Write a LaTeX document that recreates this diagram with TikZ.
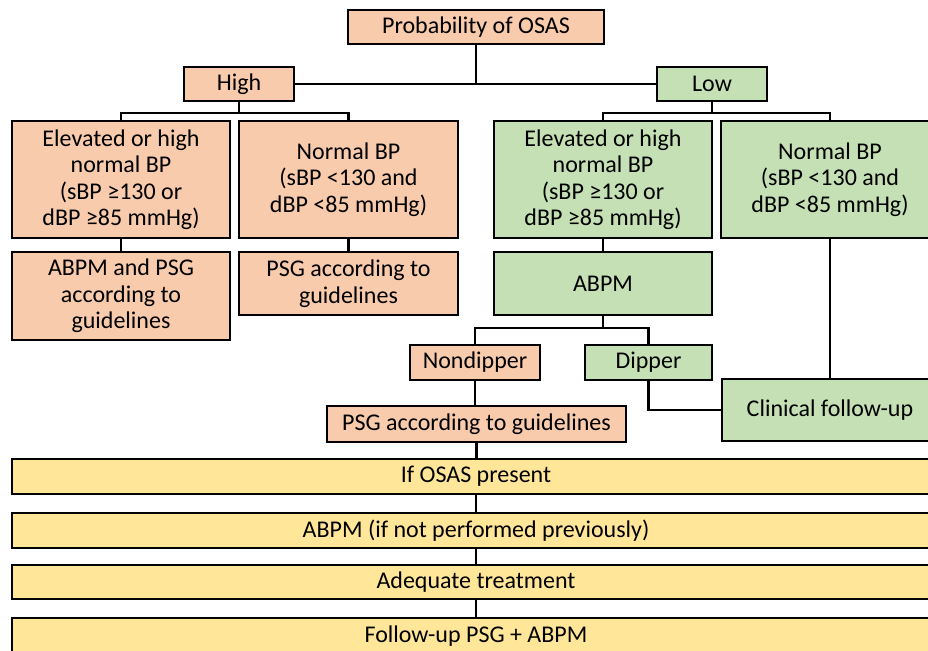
\documentclass[tikz,border=0pt]{standalone}
\usepackage{fontspec}
\setmainfont{Carlito}
\usepackage{tikz}
\usetikzlibrary{calc}
\usepackage{xcolor}
\definecolor{highcolor}{RGB}{248,203,173}
\definecolor{lowcolor}{RGB}{197,224,180}
\definecolor{barcolor}{RGB}{255,230,153}

\begin{document}
\begin{tikzpicture}[x=1pt, y=-1pt, line width=2.2pt,
    every node/.style={font=\fontsize{24}{26.5}\selectfont, align=center, inner sep=0pt},
    redbox/.style={draw, fill=highcolor, rectangle},
    greenbox/.style={draw, fill=lowcolor, rectangle},
    yellowbar/.style={draw, fill=barcolor, rectangle, minimum width=928, minimum height=35}]
      % page: 928 x 650, y grows downward
      \useasboundingbox (0,0) rectangle (928,650);
      \clip (0,0) rectangle (928,650);

      % Top level
      \node[redbox, minimum width=256, minimum height=34] (prob) at (476,27) {Probability of OSAS};
      \node[redbox, minimum width=110, minimum height=34] (high) at (239,84) {High};
      \node[greenbox, minimum width=110, minimum height=34] (low) at (712,84) {Low};

      % Blood pressure boxes
      \node[redbox, minimum width=218, minimum height=117] (elevhi) at (121,179.5)
        {Elevated or high\\normal BP\\(sBP ≥130 or\\dBP ≥85 mmHg)};
      \node[redbox, minimum width=219, minimum height=117] (normhi) at (348.5,179.5)
        {Normal BP\\(sBP <130 and\\dBP <85 mmHg)};
      \node[greenbox, minimum width=218, minimum height=117] (elevlo) at (603,179.5)
        {Elevated or high\\normal BP\\(sBP ≥130 or\\dBP ≥85 mmHg)};
      \node[greenbox, minimum width=218, minimum height=117] (normlo) at (830,179.5)
        {Normal BP\\(sBP <130 and\\dBP <85 mmHg)};

      % Tests
      \node[redbox, minimum width=218, minimum height=88] (abpsg) at (121,296)
        {ABPM and PSG\\according to\\guidelines};
      \node[redbox, minimum width=219, minimum height=63] (psgone) at (348.5,283.5)
        {PSG according to\\guidelines};
      \node[greenbox, minimum width=218, minimum height=63] (abpm) at (603,283.5) {ABPM};

      % Dipping status
      \node[redbox, minimum width=130, minimum height=35] (nondip) at (475,362.5) {Nondipper};
      \node[greenbox, minimum width=127, minimum height=35] (dip) at (648.5,362.5) {Dipper};
      \node[redbox, minimum width=299, minimum height=36] (psgtwo) at (476.5,424) {PSG according to guidelines};
      \node[greenbox, minimum width=216, minimum height=62] (clin) at (830,410) {Clinical follow-up};

      % Common pathway
      \node[yellowbar] (osas) at (476,476.5) {If OSAS present};
      \node[yellowbar] (abpmprev) at (476,530.5) {ABPM (if not performed previously)};
      \node[yellowbar, minimum height=34] (treat) at (476,582) {Adequate treatment};
      \node[yellowbar, minimum height=36] (follow) at (476,636) {Follow-up PSG + ABPM};

      % Connectors
      \draw (prob.south) -- (prob.south |- high.east);
      \draw (high.east) -- (low.west);
      \draw (high.south) -- ++(0,11) coordinate (hsplit);
      \draw (elevhi.north) |- (hsplit) -| (normhi.north);
      \draw (low.south) -- ++(0,11) coordinate (lsplit);
      \draw (elevlo.north) |- (lsplit) -| (normlo.north);
      \draw (elevhi.south) -- (abpsg.north);
      \draw (normhi.south) -- (psgone.north);
      \draw (elevlo.south) -- (abpm.north);
      \draw (abpm.south) -- ++(0,12) coordinate (asplit);
      \draw (nondip.north) |- (asplit) -| (dip.north);
      \draw (normlo.south) -- (clin.north);
      \draw (dip.south) |- (clin.west);
      \draw (nondip.south) -- (nondip.south |- psgtwo.north);
      \draw (psgtwo.south) -- (psgtwo.south |- osas.north);
      \draw (osas.south) -- (abpmprev.north);
      \draw (abpmprev.south) -- (treat.north);
      \draw (treat.south) -- (follow.north);
\end{tikzpicture}
\end{document}
